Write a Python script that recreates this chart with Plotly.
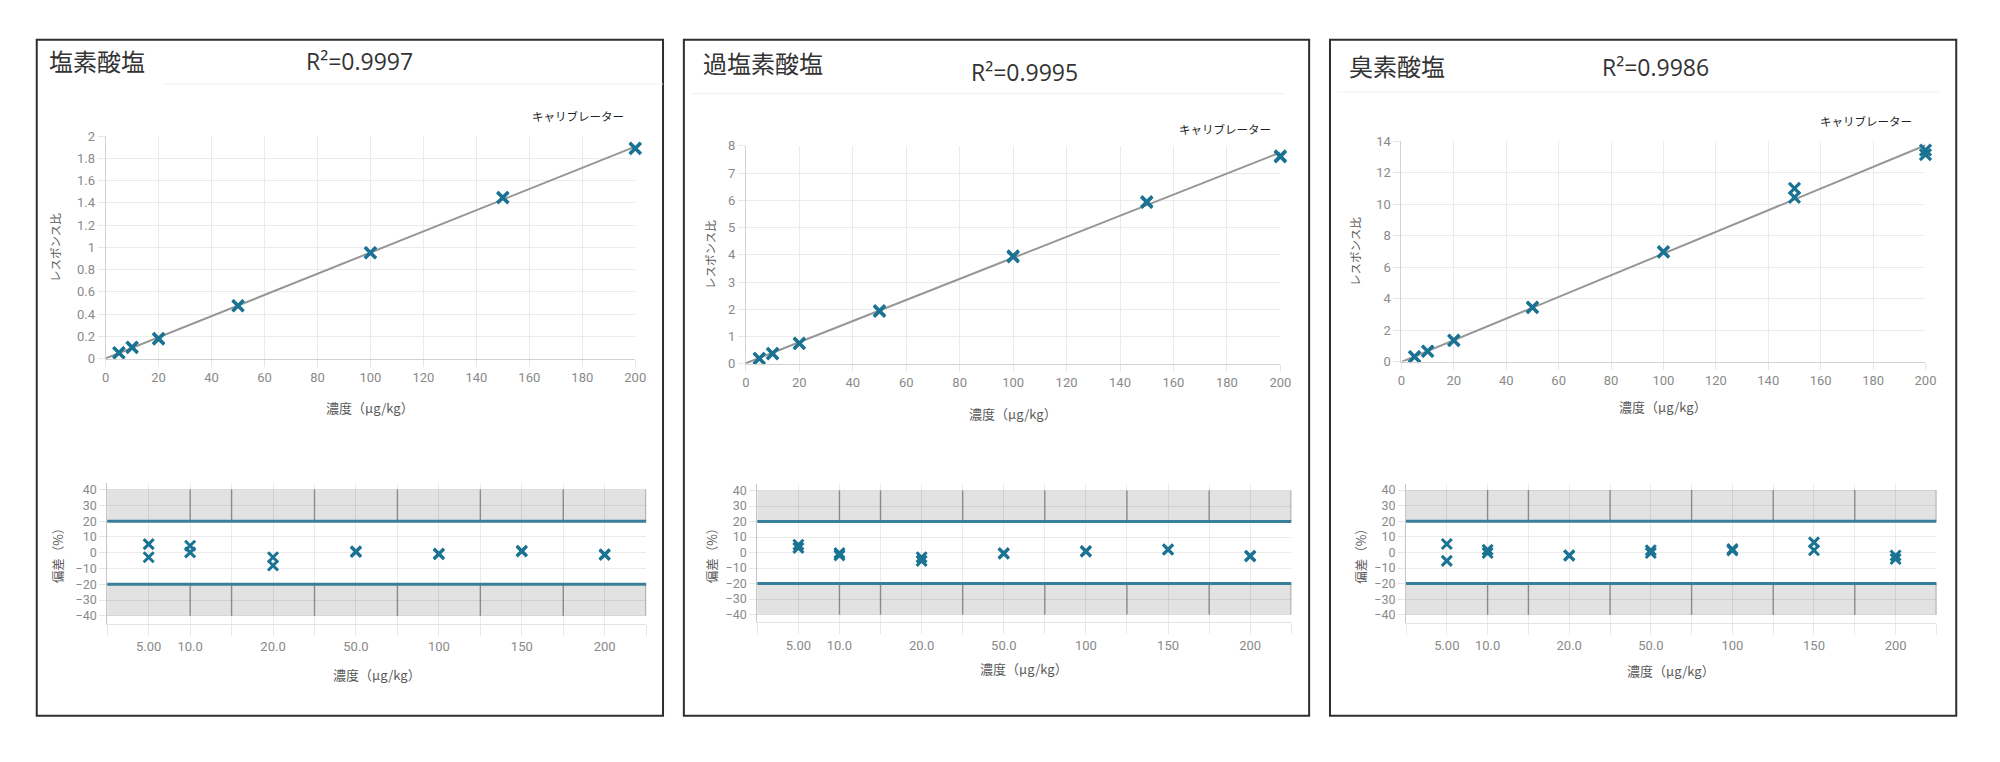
import plotly.graph_objects as go

W, H = 2000, 762

# ---------------- data ----------------
conc = [5, 10, 20, 50, 100, 150, 200]
conc_labels = ["5.00", "10.0", "20.0", "50.0", "100", "150", "200"]

analytes = ["塩素酸塩", "過塩素酸塩", "臭素酸塩"]
r2_text = ["R²=0.9997", "R²=0.9995", "R²=0.9986"]

# response ratio (two replicates per level)
chlorate_r1 = [0.055, 0.104, 0.183, 0.476, 0.953, 1.450, 1.893]
chlorate_r2 = [0.051, 0.100, 0.176, 0.474, 0.950, 1.446, 1.887]
perchlorate_r1 = [0.20, 0.38, 0.76, 1.95, 3.96, 5.95, 7.63]
perchlorate_r2 = [0.19, 0.37, 0.74, 1.93, 3.93, 5.93, 7.60]
bromate_r1 = [0.32, 0.66, 1.36, 3.45, 6.98, 10.99, 13.42]
bromate_r2 = [0.30, 0.65, 1.33, 3.42, 6.95, 10.43, 13.13]

# calibration line end points (at 0 and 200)
fit_x = [0, 200]
chlorate_fit = [0.002, 1.905]
perchlorate_fit = [0.02, 7.76]
bromate_fit = [-0.02, 13.73]

# deviation (%)
chlorate_dev1 = [5.4, 4.4, -2.9, 0.8, -0.6, 1.2, -1.0]
chlorate_dev2 = [-2.9, 0.2, -8.1, 0.4, -1.0, 0.8, -1.4]
perchlorate_dev1 = [5.0, -0.4, -3.0, -0.4, 1.0, 2.1, -2.1]
perchlorate_dev2 = [3.0, -1.8, -5.4, -0.8, 0.6, 1.8, -2.5]
bromate_dev1 = [5.4, 1.6, -1.9, 1.4, 2.2, 6.4, -2.0]
bromate_dev2 = [-5.4, -0.4, -2.1, -0.4, 1.2, 1.4, -4.2]

y_max = [2, 8, 14]
y_dtick = [0.2, 1, 2]
x_ticks_top = list(range(0, 201, 20))
dev_ticks = list(range(-40, 41, 10))
limit_pct = 20

resp1 = [chlorate_r1, perchlorate_r1, bromate_r1]
resp2 = [chlorate_r2, perchlorate_r2, bromate_r2]
fits = [chlorate_fit, perchlorate_fit, bromate_fit]
dev1 = [chlorate_dev1, perchlorate_dev1, bromate_dev1]
dev2 = [chlorate_dev2, perchlorate_dev2, bromate_dev2]

# ---------------- layout geometry (pixels) ----------------
# slot position of each concentration on the deviation axis
cat_pos = [1, 2, 4, 6, 8, 10, 12]
dark_lines = [2, 3, 5, 7, 9, 11, 13]
dev_range = [-45, 44]

panels = [
    dict(box=(33, 33.5, 664, 723), title=(43, 55), r2=(358, 55), sep=(159, 664, 78.5),
         legend=(627, 111.5),
         top_x=(102.4, 636), top_y=(358.7, 131.7), top_xt=409, top_yt=52,
         bot_x=(104, 647), bot_y=(492.3, 621), bot_xt=681, bot_yt=54),
    dict(box=(685, 33.5, 1315, 723), title=(702, 57), r2=(1028, 66.5), sep=(692, 1290, 88.3),
         legend=(1278.5, 124),
         top_x=(747.5, 1286), top_y=(364, 141.7), top_xt=415, top_yt=711.5,
         bot_x=(759, 1297), bot_y=(493.2, 619.8), bot_xt=675, bot_yt=713),
    dict(box=(1336, 33.5, 1967, 723), title=(1353.5, 60), r2=(1664, 61.5), sep=(1343, 1950, 86.7),
         legend=(1924, 116.7),
         top_x=(1408, 1936), top_y=(361.7, 136.7), top_xt=408, top_yt=1362,
         bot_x=(1412.6, 1947), bot_y=(492.7, 620), bot_xt=676.5, bot_yt=1366.5),
]

MARK = "#1b7393"
BLUE = "#3a7f99"
LINE_GRAY = "#969696"
GRID = "#ebebeb"
TICK_FONT = dict(family="Roboto, Liberation Sans, sans-serif", size=13, color="#8a8a8a")
JP = "Noto Sans CJK JP, sans-serif"


def fx(x):
    return x / W


def fy(y):
    return 1 - y / H


fig = go.Figure()
layout = dict(width=W, height=H, margin=dict(l=0, r=0, t=0, b=0),
              paper_bgcolor="white", plot_bgcolor="white", showlegend=False)
shapes = []
annotations = []

for i, p in enumerate(panels):
    t = i + 1          # top subplot index
    b = i + 4          # bottom subplot index
    tx = "x" if t == 1 else f"x{t}"
    ty = "y" if t == 1 else f"y{t}"
    bx, by = f"x{b}", f"y{b}"

    # calibration line + points
    fig.add_trace(go.Scatter(x=fit_x, y=fits[i], mode="lines", xaxis=tx, yaxis=ty,
                             line=dict(color=LINE_GRAY, width=2), hoverinfo="skip"))
    fig.add_trace(go.Scatter(x=conc + conc, y=resp1[i] + resp2[i], mode="markers",
                             xaxis=tx, yaxis=ty, cliponaxis=False,
                             marker=dict(symbol="x-thin", size=11, color=MARK,
                                         line=dict(color=MARK, width=3.2))))
    # deviation points
    pos = [cat_pos[k] for k in range(len(conc_labels))]
    fig.add_trace(go.Scatter(x=pos + pos, y=dev1[i] + dev2[i], mode="markers",
                             xaxis=bx, yaxis=by, cliponaxis=False,
                             text=conc_labels + conc_labels,
                             marker=dict(symbol="x-thin", size=10, color=MARK,
                                         line=dict(color=MARK, width=3))))

    # top axes
    layout["xaxis" if t == 1 else f"xaxis{t}"] = dict(
        domain=[fx(p["top_x"][0]), fx(p["top_x"][1])], range=[0, 200], anchor=ty,
        tickmode="array", tickvals=x_ticks_top, showgrid=True, gridcolor=GRID,
        ticks="outside", ticklen=7, tickcolor="#e6e6e6", showline=True, linecolor="#d2d2d2",
        zeroline=False, tickfont=TICK_FONT, fixedrange=True)
    layout["yaxis" if t == 1 else f"yaxis{t}"] = dict(
        domain=[fy(p["top_y"][0]), fy(p["top_y"][1])], range=[0, y_max[i]], anchor=tx,
        tickmode="linear", tick0=0, dtick=y_dtick[i], showgrid=True, gridcolor=GRID,
        ticks="outside", ticklen=7, tickcolor="#e6e6e6", showline=True, linecolor="#d2d2d2",
        zeroline=False, tickfont=TICK_FONT, fixedrange=True)

    # bottom axes
    y40, ym40 = p["bot_y"]
    ppu = (ym40 - y40) / 80.0
    ytop = y40 - (dev_range[1] - 40) * ppu
    ybot = ym40 + (-40 - dev_range[0]) * ppu
    slot_vals = list(range(0, 14))
    slot_text = [conc_labels[cat_pos.index(v)] if v in cat_pos else "" for v in slot_vals]
    layout[f"xaxis{b}"] = dict(
        domain=[fx(p["bot_x"][0]), fx(p["bot_x"][1])], range=[0, 13], anchor=by,
        tickmode="array", tickvals=slot_vals, ticktext=slot_text,
        showgrid=True, gridcolor="rgba(0,0,0,0.08)",
        ticks="outside", ticklen=11, tickcolor="#e8e8e8", showline=True, linecolor="#e4e4e4",
        zeroline=False, tickfont=TICK_FONT, fixedrange=True)
    layout[f"yaxis{b}"] = dict(
        domain=[fy(ybot), fy(ytop)], range=dev_range, anchor=bx,
        tickmode="array", tickvals=dev_ticks, showgrid=True, gridcolor="rgba(0,0,0,0.08)",
        ticks="outside", ticklen=7, tickcolor="#e6e6e6", showline=True, linecolor="#c6c6c6",
        zeroline=False, tickfont=dict(TICK_FONT, size=12.5), fixedrange=True)

    # shaded out-of-limit bands
    for y0, y1 in [(limit_pct, 40), (-40, -limit_pct)]:
        shapes.append(dict(type="rect", xref=f"{bx} domain", yref=by, x0=0, x1=1, y0=y0, y1=y1,
                           fillcolor="#e2e2e3", line=dict(width=0), layer="below"))
        for xv in dark_lines:
            shapes.append(dict(type="line", xref=bx, yref=by, x0=xv, x1=xv, y0=y0, y1=y1,
                               line=dict(color="rgba(80,80,80,0.55)", width=1.4), layer="between"))
    for yv in (limit_pct, -limit_pct):
        shapes.append(dict(type="line", xref=f"{bx} domain", yref=by, x0=0, x1=1, y0=yv, y1=yv,
                           line=dict(color=BLUE, width=3)))

    # panel frame and faint separator
    x0, y0, x1, y1 = p["box"]
    shapes.append(dict(type="rect", xref="paper", yref="paper", x0=fx(x0), x1=fx(x1),
                       y0=fy(y1), y1=fy(y0), line=dict(color="#2e2e2e", width=2)))
    sx0, sx1, sy = p["sep"]
    shapes.append(dict(type="line", xref="paper", yref="paper", x0=fx(sx0), x1=fx(sx1),
                       y0=fy(sy), y1=fy(sy), line=dict(color="#f1f1f1", width=1)))

    # texts
    annotations.append(dict(text=analytes[i], x=fx(p["title"][0]), y=fy(p["title"][1]),
                            xref="paper", yref="paper", xanchor="left", yanchor="middle",
                            showarrow=False, font=dict(family=JP, size=24, color="#333333")))
    annotations.append(dict(text=r2_text[i], x=fx(p["r2"][0]), y=fy(p["r2"][1]),
                            xref="paper", yref="paper", xanchor="center", yanchor="middle",
                            showarrow=False,
                            font=dict(family="Open Sans, Noto Sans, sans-serif", size=23,
                                      color="#333333")))
    annotations.append(dict(text="キャリブレーター", x=fx(p["legend"][0]), y=fy(p["legend"][1]),
                            xref="paper", yref="paper", xanchor="right", yanchor="middle",
                            showarrow=False, font=dict(family=JP, size=11.5, color="#222222")))
    tcx = (p["top_x"][0] + p["top_x"][1]) / 2
    annotations.append(dict(text="濃度（μg/kg）", x=fx(tcx), y=fy(p["top_xt"]),
                            xref="paper", yref="paper", xanchor="center", yanchor="middle",
                            showarrow=False, font=dict(family=JP, size=13, color="#5a5a5a")))
    tcy = (p["top_y"][0] + p["top_y"][1]) / 2
    annotations.append(dict(text="レスポンス比", x=fx(p["top_yt"]), y=fy(tcy), textangle=-90,
                            xref="paper", yref="paper", xanchor="center", yanchor="middle",
                            showarrow=False, font=dict(family=JP, size=11.5, color="#5a5a5a")))
    bcx = (p["bot_x"][0] + p["bot_x"][1]) / 2
    annotations.append(dict(text="濃度（μg/kg）", x=fx(bcx), y=fy(p["bot_xt"]),
                            xref="paper", yref="paper", xanchor="center", yanchor="middle",
                            showarrow=False, font=dict(family=JP, size=13, color="#5a5a5a")))
    annotations.append(dict(text="偏差（%）", x=fx(p["bot_yt"]), y=fy((y40 + ym40) / 2),
                            textangle=-90, xref="paper", yref="paper", xanchor="center",
                            yanchor="middle", showarrow=False,
                            font=dict(family=JP, size=12.5, color="#5a5a5a")))

layout["shapes"] = shapes
layout["annotations"] = annotations
fig.update_layout(**layout)

fig.write_html("out.html", config={"displayModeBar": False},
               post_script="document.body.style.margin='0';document.body.style.overflow='hidden';")
